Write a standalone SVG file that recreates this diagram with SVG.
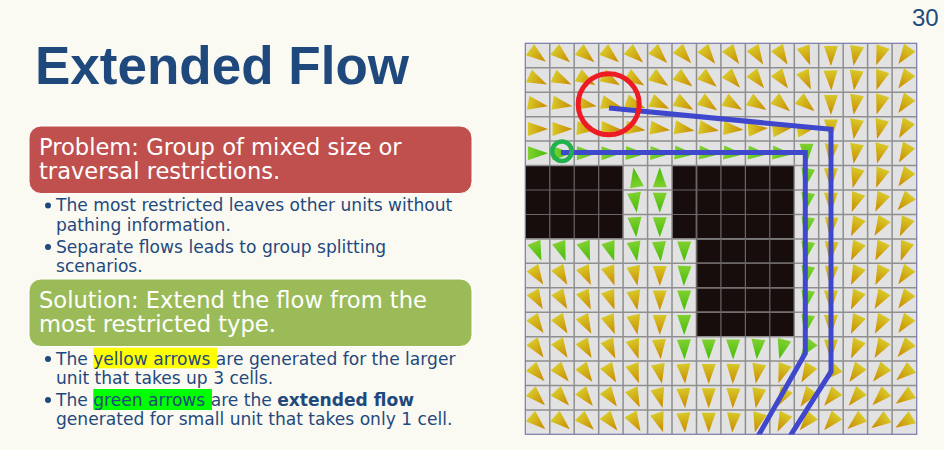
<svg xmlns="http://www.w3.org/2000/svg" width="944" height="450" viewBox="0 0 944 450">
<style>
.t{font-family:"Liberation Sans",Arial,sans-serif}
.h{font-family:"DejaVu Sans",Verdana,sans-serif;font-size:22.6px;fill:#fff}
.b{font-family:"DejaVu Sans",Verdana,sans-serif;font-size:17.1px;fill:#1f497d}
.gl{stroke:#8f8f8f;stroke-width:1.5;fill:none}
.gd{stroke:#6b6666;stroke-width:1.2;fill:none}
.p{fill:none;stroke:#3f48cc;stroke-width:5;stroke-linejoin:miter}
</style>
<defs>
<linearGradient id="gy" x1="0" x2="1" y1="0" y2="0"><stop offset="0" stop-color="#d8c828"/><stop offset="1" stop-color="#c88800"/></linearGradient>
<linearGradient id="gg" x1="0" x2="1" y1="0" y2="0"><stop offset="0" stop-color="#80d030"/><stop offset="1" stop-color="#44bc08"/></linearGradient>
<polygon id="y" points="-9.500,-7 10.500,0 -9.500,7" fill="url(#gy)"/>
<polygon id="g" points="-9.500,-7 10.500,0 -9.500,7" fill="url(#gg)"/>
<clipPath id="gc"><rect x="525" y="43" width="392" height="391.500"/></clipPath>
</defs>
<rect width="944" height="450" fill="#faf9f2"/>
<text class="t" x="912" y="26" font-size="24" fill="#1f497d">30</text>
<text class="t" x="35" y="84" font-size="53" font-weight="700" fill="#1f497d">Extended Flow</text>
<g id="problem">
<rect x="29" y="126" width="443" height="67.500" rx="12" fill="#c0504d" stroke="#fff" stroke-width="1"/>
<text class="h" x="39" y="155">Problem: Group of mixed size or</text>
<text class="h" x="39" y="179">traversal restrictions.</text>
</g>
<g id="problem-list">
<circle cx="48" cy="205.500" r="3" fill="#1f497d"/>
<text class="b" x="56" y="211">The most restricted leaves other units without</text>
<text class="b" x="56" y="231">pathing information.</text>
<circle cx="48" cy="247" r="3" fill="#1f497d"/>
<text class="b" x="56" y="252.500">Separate flows leads to group splitting</text>
<text class="b" x="56" y="271.500">scenarios.</text>
</g>
<g id="solution">
<rect x="29" y="279" width="443" height="67.500" rx="12" fill="#9bbb59" stroke="#fff" stroke-width="1"/>
<text class="h" x="39" y="307.500">Solution: Extend the flow from the</text>
<text class="h" x="39" y="332">most restricted type.</text>
</g>
<g id="solution-list">
<rect x="93.300" y="347.700" width="123.700" height="20.600" fill="#ffff00"/>
<rect x="93.300" y="389" width="118.700" height="21" fill="#00ff00"/>
<circle cx="48" cy="359" r="3" fill="#1f497d"/>
<text class="b" x="56" y="365">The yellow arrows are generated for the larger</text>
<text class="b" x="56" y="383.500">unit that takes up 3 cells.</text>
<circle cx="48" cy="400" r="3" fill="#1f497d"/>
<text class="b" x="56" y="405.500">The green arrows are the <tspan font-weight="700">extended flow</tspan></text>
<text class="b" x="56" y="425">generated for small unit that takes only 1 cell.</text>
</g>
<g id="grid">
<rect x="525.300" y="43.300" width="391.400" height="391" fill="#e2e2e2"/>
<rect x="525.300" y="165.600" width="97.900" height="73" fill="#170d0d"/>
<rect x="672" y="165.600" width="122.500" height="73" fill="#170d0d"/>
<rect x="696.700" y="238.600" width="97.800" height="98" fill="#170d0d"/>
<path class="gl" d="M525.300 67.800H916.700M525.300 92.200H916.700M525.300 116.700H916.700M525.300 141.100H916.700M525.300 165.600H916.700M525.300 238.900H916.700M525.300 263.300H916.700M525.300 287.800H916.700M525.300 312.200H916.700M525.300 336.700H916.700M525.300 361.100H916.700M525.300 385.600H916.700M525.300 410H916.700M623.100 190H672M794.500 190H916.700M623.100 214.500H672M794.500 214.500H916.700"/>
<path class="gl" d="M549.800 43.300V165.600M574.200 43.300V165.600M598.700 43.300V165.600M623.100 43.300V434.300M647.600 43.300V434.300M672 43.300V434.300M696.500 43.300V434.300M720.900 43.300V165.600M745.400 43.300V165.600M769.800 43.300V165.600M794.300 43.300V434.300M818.700 43.300V434.300M843.200 43.300V434.300M867.600 43.300V434.300M892.100 43.300V434.300M549.800 238.600V434.300M574.200 238.600V434.300M598.700 238.600V434.300M720.900 336.700V434.300M745.400 336.700V434.300M769.800 336.700V434.300"/>
<path class="gd" d="M525.300 190H623.100M525.300 214.500H623.100M672 190H794.500M672 214.500H794.500M696.700 263.300H794.500M696.700 287.800H794.500M696.700 312.200H794.500M549.800 165.600V238.600M574.200 165.600V238.600M598.700 165.600V238.600M696.500 165.600V336.700M720.900 165.600V336.700M745.400 165.600V336.700M769.800 165.600V336.700"/>
<rect x="525.300" y="43.300" width="391.400" height="391" fill="none" stroke="#7a7ab0" stroke-width="1.200"/>
</g>
<g id="yellow-and-green-arrows">
<g transform="translate(0,55.5)"><use href="#y" transform="translate(537.5) rotate(37)"/><use href="#y" transform="translate(562) rotate(40)"/><use href="#y" transform="translate(586.4) rotate(40)"/><use href="#y" transform="translate(610.9) rotate(40)"/><use href="#y" transform="translate(635.3) rotate(42)"/><use href="#y" transform="translate(659.8) rotate(45)"/><use href="#y" transform="translate(684.2) rotate(48)"/><use href="#y" transform="translate(708.7) rotate(52)"/><use href="#y" transform="translate(733.1) rotate(55)"/><use href="#y" transform="translate(757.6) rotate(58)"/><use href="#y" transform="translate(782) rotate(58)"/><use href="#y" transform="translate(806.5) rotate(70)"/><use href="#y" transform="translate(830.9) rotate(90)"/><use href="#y" transform="translate(855.4) rotate(100)"/><use href="#y" transform="translate(879.8) rotate(110)"/><use href="#y" transform="translate(904.3) rotate(125)"/></g>
<g transform="translate(0,80)"><use href="#y" transform="translate(537.5) rotate(25)"/><use href="#y" transform="translate(562) rotate(25)"/><use href="#y" transform="translate(586.4) rotate(30)"/><use href="#y" transform="translate(610.9) rotate(30)"/><use href="#y" transform="translate(635.3) rotate(32)"/><use href="#y" transform="translate(659.8) rotate(35)"/><use href="#y" transform="translate(684.2) rotate(38)"/><use href="#y" transform="translate(708.7) rotate(40)"/><use href="#y" transform="translate(733.1) rotate(48)"/><use href="#y" transform="translate(757.6) rotate(52)"/><use href="#y" transform="translate(782) rotate(55)"/><use href="#y" transform="translate(806.5) rotate(65)"/><use href="#y" transform="translate(830.9) rotate(88)"/><use href="#y" transform="translate(855.4) rotate(98)"/><use href="#y" transform="translate(879.8) rotate(108)"/><use href="#y" transform="translate(904.3) rotate(125)"/></g>
<g transform="translate(0,104.4)"><use href="#y" transform="translate(537.5) rotate(10)"/><use href="#y" transform="translate(562) rotate(10)"/><use href="#y" transform="translate(586.4) rotate(10)"/><use href="#y" transform="translate(610.9) rotate(15)"/><use href="#y" transform="translate(635.3) rotate(20)"/><use href="#y" transform="translate(659.8) rotate(25)"/><use href="#y" transform="translate(684.2) rotate(30)"/><use href="#y" transform="translate(708.7) rotate(35)"/><use href="#y" transform="translate(733.1) rotate(30)"/><use href="#y" transform="translate(757.6) rotate(32)"/><use href="#y" transform="translate(782) rotate(40)"/><use href="#y" transform="translate(806.5) rotate(40)"/><use href="#y" transform="translate(830.9) rotate(90)"/><use href="#y" transform="translate(855.4) rotate(100)"/><use href="#y" transform="translate(879.8) rotate(108)"/><use href="#y" transform="translate(904.3) rotate(125)"/></g>
<g transform="translate(0,128.9)"><use href="#y" transform="translate(537.5)"/><use href="#y" transform="translate(562)"/><use href="#y" transform="translate(586.4) rotate(5)"/><use href="#y" transform="translate(610.9) rotate(5)"/><use href="#y" transform="translate(635.3) rotate(8)"/><use href="#y" transform="translate(659.8) rotate(8)"/><use href="#y" transform="translate(684.2) rotate(10)"/><use href="#y" transform="translate(708.7) rotate(10)"/><use href="#y" transform="translate(733.1) rotate(5)"/><use href="#y" transform="translate(757.6) rotate(-5)"/><use href="#y" transform="translate(782) rotate(-8)"/><use href="#y" transform="translate(806.5) rotate(-10)"/><use href="#y" transform="translate(830.9) rotate(90)"/><use href="#y" transform="translate(855.4) rotate(100)"/><use href="#y" transform="translate(879.8) rotate(105)"/><use href="#y" transform="translate(904.3) rotate(120)"/></g>
<g transform="translate(0,153.3)"><use href="#g" transform="translate(537.5)"/><use href="#g" transform="translate(562)"/><use href="#g" transform="translate(586.4)"/><use href="#g" transform="translate(610.9)"/><use href="#g" transform="translate(635.3) rotate(2)"/><use href="#g" transform="translate(659.8) rotate(2)"/><use href="#g" transform="translate(684.2) rotate(5)"/><use href="#g" transform="translate(708.7) rotate(5)"/><use href="#g" transform="translate(733.1) rotate(5)"/><use href="#g" transform="translate(757.6) rotate(5)"/><use href="#g" transform="translate(782) rotate(5)"/><use href="#g" transform="translate(806.5) rotate(90)"/><use href="#y" transform="translate(830.9) rotate(95)"/><use href="#y" transform="translate(855.4) rotate(100)"/><use href="#y" transform="translate(879.8) rotate(105)"/><use href="#y" transform="translate(904.3) rotate(120)"/></g>
<g transform="translate(0,177.8)"><use href="#g" transform="translate(635.3) rotate(-100)"/><use href="#g" transform="translate(659.8) rotate(-90)"/><use href="#g" transform="translate(806.5) rotate(100)"/><use href="#y" transform="translate(830.9) rotate(90)"/><use href="#y" transform="translate(855.4) rotate(105)"/><use href="#y" transform="translate(879.8) rotate(110)"/><use href="#y" transform="translate(904.3) rotate(125)"/></g>
<g transform="translate(0,202.2)"><use href="#g" transform="translate(635.3) rotate(82)"/><use href="#g" transform="translate(659.8) rotate(90)"/><use href="#g" transform="translate(806.5) rotate(100)"/><use href="#y" transform="translate(830.9) rotate(90)"/><use href="#y" transform="translate(855.4) rotate(110)"/><use href="#y" transform="translate(879.8) rotate(115)"/><use href="#y" transform="translate(904.3) rotate(130)"/></g>
<g transform="translate(0,226.7)"><use href="#g" transform="translate(635.3) rotate(85)"/><use href="#g" transform="translate(659.8) rotate(90)"/><use href="#g" transform="translate(806.5) rotate(100)"/><use href="#y" transform="translate(830.9) rotate(95)"/><use href="#y" transform="translate(855.4) rotate(115)"/><use href="#y" transform="translate(879.8) rotate(120)"/><use href="#y" transform="translate(904.3) rotate(115)"/></g>
<g transform="translate(0,251.1)"><use href="#g" transform="translate(537.5) rotate(68)"/><use href="#g" transform="translate(562) rotate(70)"/><use href="#g" transform="translate(586.4) rotate(70)"/><use href="#g" transform="translate(610.9) rotate(72)"/><use href="#g" transform="translate(635.3) rotate(80)"/><use href="#g" transform="translate(659.8) rotate(85)"/><use href="#g" transform="translate(684.2) rotate(90)"/><use href="#g" transform="translate(806.5) rotate(100)"/><use href="#y" transform="translate(830.9) rotate(95)"/><use href="#y" transform="translate(855.4) rotate(115)"/><use href="#y" transform="translate(879.8) rotate(115)"/><use href="#y" transform="translate(904.3) rotate(110)"/></g>
<g transform="translate(0,275.6)"><use href="#y" transform="translate(537.5) rotate(57)"/><use href="#y" transform="translate(562) rotate(60)"/><use href="#y" transform="translate(586.4) rotate(65)"/><use href="#y" transform="translate(610.9) rotate(70)"/><use href="#y" transform="translate(635.3) rotate(78)"/><use href="#y" transform="translate(659.8) rotate(90)"/><use href="#g" transform="translate(684.2) rotate(92)"/><use href="#g" transform="translate(806.5) rotate(100)"/><use href="#y" transform="translate(830.9) rotate(95)"/><use href="#y" transform="translate(855.4) rotate(115)"/><use href="#y" transform="translate(879.8) rotate(115)"/><use href="#y" transform="translate(904.3) rotate(125)"/></g>
<g transform="translate(0,300)"><use href="#y" transform="translate(537.5) rotate(60)"/><use href="#y" transform="translate(562) rotate(60)"/><use href="#y" transform="translate(586.4) rotate(65)"/><use href="#y" transform="translate(610.9) rotate(70)"/><use href="#y" transform="translate(635.3) rotate(78)"/><use href="#y" transform="translate(659.8) rotate(90)"/><use href="#g" transform="translate(684.2) rotate(90)"/><use href="#g" transform="translate(806.5) rotate(100)"/><use href="#y" transform="translate(830.9) rotate(90)"/><use href="#y" transform="translate(855.4) rotate(115)"/><use href="#y" transform="translate(879.8) rotate(120)"/><use href="#y" transform="translate(904.3) rotate(125)"/></g>
<g transform="translate(0,324.5)"><use href="#y" transform="translate(537.5) rotate(55)"/><use href="#y" transform="translate(562) rotate(58)"/><use href="#y" transform="translate(586.4) rotate(62)"/><use href="#y" transform="translate(610.9) rotate(68)"/><use href="#y" transform="translate(635.3) rotate(78)"/><use href="#y" transform="translate(659.8) rotate(90)"/><use href="#g" transform="translate(684.2) rotate(90)"/><use href="#g" transform="translate(806.5) rotate(100)"/><use href="#y" transform="translate(830.9) rotate(90)"/><use href="#y" transform="translate(855.4) rotate(115)"/><use href="#y" transform="translate(879.8) rotate(118)"/><use href="#y" transform="translate(904.3) rotate(125)"/></g>
<g transform="translate(0,348.9)"><use href="#y" transform="translate(537.5) rotate(55)"/><use href="#y" transform="translate(562) rotate(58)"/><use href="#y" transform="translate(586.4) rotate(60)"/><use href="#y" transform="translate(610.9) rotate(65)"/><use href="#y" transform="translate(635.3) rotate(72)"/><use href="#y" transform="translate(659.8) rotate(85)"/><use href="#g" transform="translate(684.2) rotate(88)"/><use href="#g" transform="translate(708.7) rotate(90)"/><use href="#g" transform="translate(733.1) rotate(90)"/><use href="#g" transform="translate(757.6) rotate(95)"/><use href="#g" transform="translate(782) rotate(105)"/><use href="#g" transform="translate(806.5) rotate(125)"/><use href="#y" transform="translate(830.9) rotate(90)"/><use href="#y" transform="translate(855.4) rotate(115)"/><use href="#y" transform="translate(879.8) rotate(120)"/><use href="#y" transform="translate(904.3) rotate(130)"/></g>
<g transform="translate(0,373.4)"><use href="#y" transform="translate(537.5) rotate(48)"/><use href="#y" transform="translate(562) rotate(50)"/><use href="#y" transform="translate(586.4) rotate(55)"/><use href="#y" transform="translate(610.9) rotate(60)"/><use href="#y" transform="translate(635.3) rotate(70)"/><use href="#y" transform="translate(659.8) rotate(78)"/><use href="#y" transform="translate(684.2) rotate(85)"/><use href="#y" transform="translate(708.7) rotate(90)"/><use href="#y" transform="translate(733.1) rotate(92)"/><use href="#y" transform="translate(757.6) rotate(100)"/><use href="#y" transform="translate(782) rotate(110)"/><use href="#y" transform="translate(806.5) rotate(120)"/><use href="#y" transform="translate(830.9) rotate(135)"/><use href="#y" transform="translate(855.4) rotate(125)"/><use href="#y" transform="translate(879.8) rotate(130)"/><use href="#y" transform="translate(904.3) rotate(140)"/></g>
<g transform="translate(0,397.8)"><use href="#y" transform="translate(537.5) rotate(45)"/><use href="#y" transform="translate(562) rotate(48)"/><use href="#y" transform="translate(586.4) rotate(52)"/><use href="#y" transform="translate(610.9) rotate(55)"/><use href="#y" transform="translate(635.3) rotate(65)"/><use href="#y" transform="translate(659.8) rotate(75)"/><use href="#y" transform="translate(684.2) rotate(85)"/><use href="#y" transform="translate(708.7) rotate(90)"/><use href="#y" transform="translate(733.1) rotate(92)"/><use href="#y" transform="translate(757.6) rotate(100)"/><use href="#y" transform="translate(782) rotate(120)"/><use href="#y" transform="translate(806.5) rotate(125)"/><use href="#y" transform="translate(830.9) rotate(130)"/><use href="#y" transform="translate(855.4) rotate(130)"/><use href="#y" transform="translate(879.8) rotate(135)"/><use href="#y" transform="translate(904.3) rotate(145)"/></g>
<g transform="translate(0,422.3)"><use href="#y" transform="translate(537.5) rotate(42)"/><use href="#y" transform="translate(562) rotate(42)"/><use href="#y" transform="translate(586.4) rotate(45)"/><use href="#y" transform="translate(610.9) rotate(52)"/><use href="#y" transform="translate(635.3) rotate(60)"/><use href="#y" transform="translate(659.8) rotate(72)"/><use href="#y" transform="translate(684.2) rotate(85)"/><use href="#y" transform="translate(708.7) rotate(90)"/><use href="#y" transform="translate(733.1) rotate(95)"/><use href="#y" transform="translate(757.6) rotate(105)"/><use href="#y" transform="translate(782) rotate(115)"/><use href="#y" transform="translate(806.5) rotate(130)"/><use href="#y" transform="translate(830.9) rotate(130)"/><use href="#y" transform="translate(855.4) rotate(140)"/><use href="#y" transform="translate(879.8) rotate(145)"/><use href="#y" transform="translate(904.3) rotate(148)"/></g>
</g>
<g id="connectors" clip-path="url(#gc)">
<path class="p" d="M609 108L831 129.300V371.700L785 444"/>
<path class="p" d="M561 152.500H805.300V353.300L753.600 444"/>
</g>
<g id="markers">
<circle cx="608.700" cy="104.300" r="30.500" fill="none" stroke="#ed1c24" stroke-width="5"/>
<circle cx="562" cy="151.300" r="9.700" fill="none" stroke="#22b14c" stroke-width="4.500"/>
</g>
</svg>
